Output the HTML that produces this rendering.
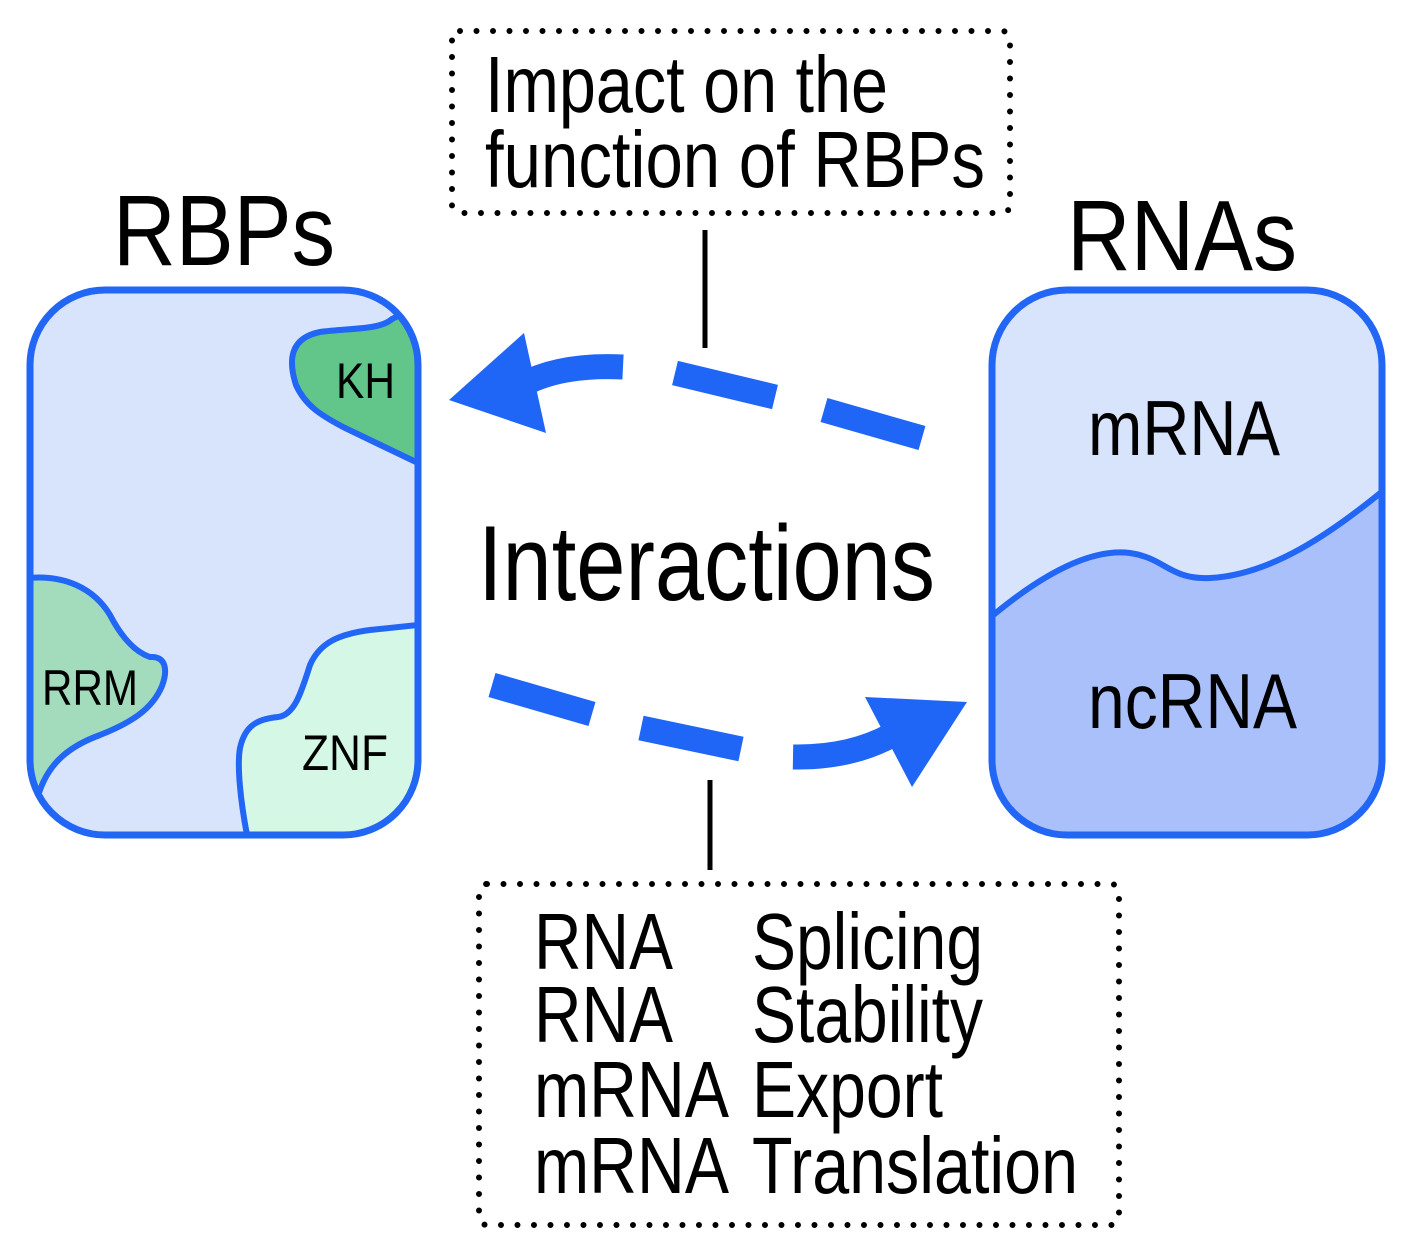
<!DOCTYPE html>
<html><head><meta charset="utf-8"><style>
html,body{margin:0;padding:0;background:#fff;}
svg{display:block;}
text{font-family:"Liberation Sans",Arial,sans-serif;fill:#000;}
</style></head><body>
<svg width="1401" height="1250" viewBox="0 0 1401 1250" xmlns="http://www.w3.org/2000/svg">
<defs>
<clipPath id="cl"><rect x="30" y="290" width="388" height="545" rx="75"/></clipPath>
<clipPath id="cr"><rect x="992" y="290" width="390" height="545" rx="75"/></clipPath>
</defs>
<rect x="452" y="31" width="558" height="182" rx="8" fill="none" stroke="#000" stroke-width="6" stroke-linecap="round" stroke-dasharray="0 16.5"/>
<text x="485" y="112" font-size="80" textLength="403" lengthAdjust="spacingAndGlyphs">Impact on the</text>
<text x="485" y="187" font-size="80" textLength="500" lengthAdjust="spacingAndGlyphs">function of RBPs</text>
<line x1="705" y1="230" x2="705" y2="348" stroke="#000" stroke-width="5"/>

<text x="113" y="265" font-size="100" textLength="222" lengthAdjust="spacingAndGlyphs">RBPs</text>
<text x="1067" y="270" font-size="100" textLength="230" lengthAdjust="spacingAndGlyphs">RNAs</text>

<rect x="30" y="290" width="388" height="545" rx="75" fill="#d8e3fc"/>
<g clip-path="url(#cl)" stroke="#2266f5" stroke-width="6">
<path d="M392,319 C380,330 350,328 320,332 C290,338 288,360 296,385 C305,405 320,415 345,428 L418,463 L430,463 L430,300 Z" fill="#62c58a"/>
<path d="M20,579 C65,572 95,590 110,615 C122,638 135,652 150,657 C166,656 168,670 162,686 C152,710 130,723 100,735 C70,746 50,762 40,790 L20,790 Z" fill="#a2dcbd"/>
<path d="M248,840 C240,800 237,765 240,748 C245,725 258,719 278,717 C295,715 302,690 310,665 C320,642 340,634 370,630 L418,625 L430,625 L430,840 Z" fill="#d5f7e6"/>
</g>
<rect x="30" y="290" width="388" height="545" rx="75" fill="none" stroke="#2266f5" stroke-width="7"/>
<text x="336" y="398" font-size="50" textLength="59" lengthAdjust="spacingAndGlyphs">KH</text>
<text x="42" y="705" font-size="50" textLength="96" lengthAdjust="spacingAndGlyphs">RRM</text>
<text x="302" y="770" font-size="50" textLength="86" lengthAdjust="spacingAndGlyphs">ZNF</text>

<rect x="992" y="290" width="390" height="545" rx="75" fill="#d8e3fc"/>
<g clip-path="url(#cr)">
<path d="M985,622 C1040,575 1090,548 1130,553 C1165,558 1170,580 1210,578 C1270,575 1330,535 1390,485 L1390,850 L985,850 Z" fill="#a9c0fb" stroke="#2266f5" stroke-width="6"/>
</g>
<rect x="992" y="290" width="390" height="545" rx="75" fill="none" stroke="#2266f5" stroke-width="7"/>
<text x="1088" y="455" font-size="78" textLength="192" lengthAdjust="spacingAndGlyphs">mRNA</text>
<text x="1088" y="728" font-size="78" textLength="209" lengthAdjust="spacingAndGlyphs">ncRNA</text>

<g stroke="#1f66f7" stroke-width="25" fill="none">
<path d="M522,385 Q560,364 623,367"/>
<line x1="675" y1="373" x2="775" y2="397"/>
<line x1="824" y1="410" x2="922" y2="438"/>
<line x1="492" y1="685" x2="592" y2="714"/>
<line x1="641" y1="728" x2="741" y2="749"/>
<path d="M793,757 Q850,758 892,735"/>
</g>
<polygon points="449,400 524,333 546,433" fill="#1f66f7"/>
<polygon points="967,702 865,697 912,787" fill="#1f66f7"/>

<text x="478" y="600" font-size="107" textLength="457" lengthAdjust="spacingAndGlyphs">Interactions</text>

<line x1="710" y1="780" x2="710" y2="870" stroke="#000" stroke-width="5"/>
<rect x="479" y="884" width="640" height="341" rx="8" fill="none" stroke="#000" stroke-width="6" stroke-linecap="round" stroke-dasharray="0 16.5"/>
<g font-size="80">
<text x="534" y="969" textLength="139" lengthAdjust="spacingAndGlyphs">RNA</text>
<text x="752" y="969" textLength="231" lengthAdjust="spacingAndGlyphs">Splicing</text>
<text x="534" y="1042" textLength="139" lengthAdjust="spacingAndGlyphs">RNA</text>
<text x="752" y="1042" textLength="231" lengthAdjust="spacingAndGlyphs">Stability</text>
<text x="534" y="1117" textLength="195" lengthAdjust="spacingAndGlyphs">mRNA</text>
<text x="752" y="1117" textLength="191" lengthAdjust="spacingAndGlyphs">Export</text>
<text x="534" y="1193" textLength="195" lengthAdjust="spacingAndGlyphs">mRNA</text>
<text x="752" y="1193" textLength="326" lengthAdjust="spacingAndGlyphs">Translation</text>
</g>
</svg>
</body></html>
